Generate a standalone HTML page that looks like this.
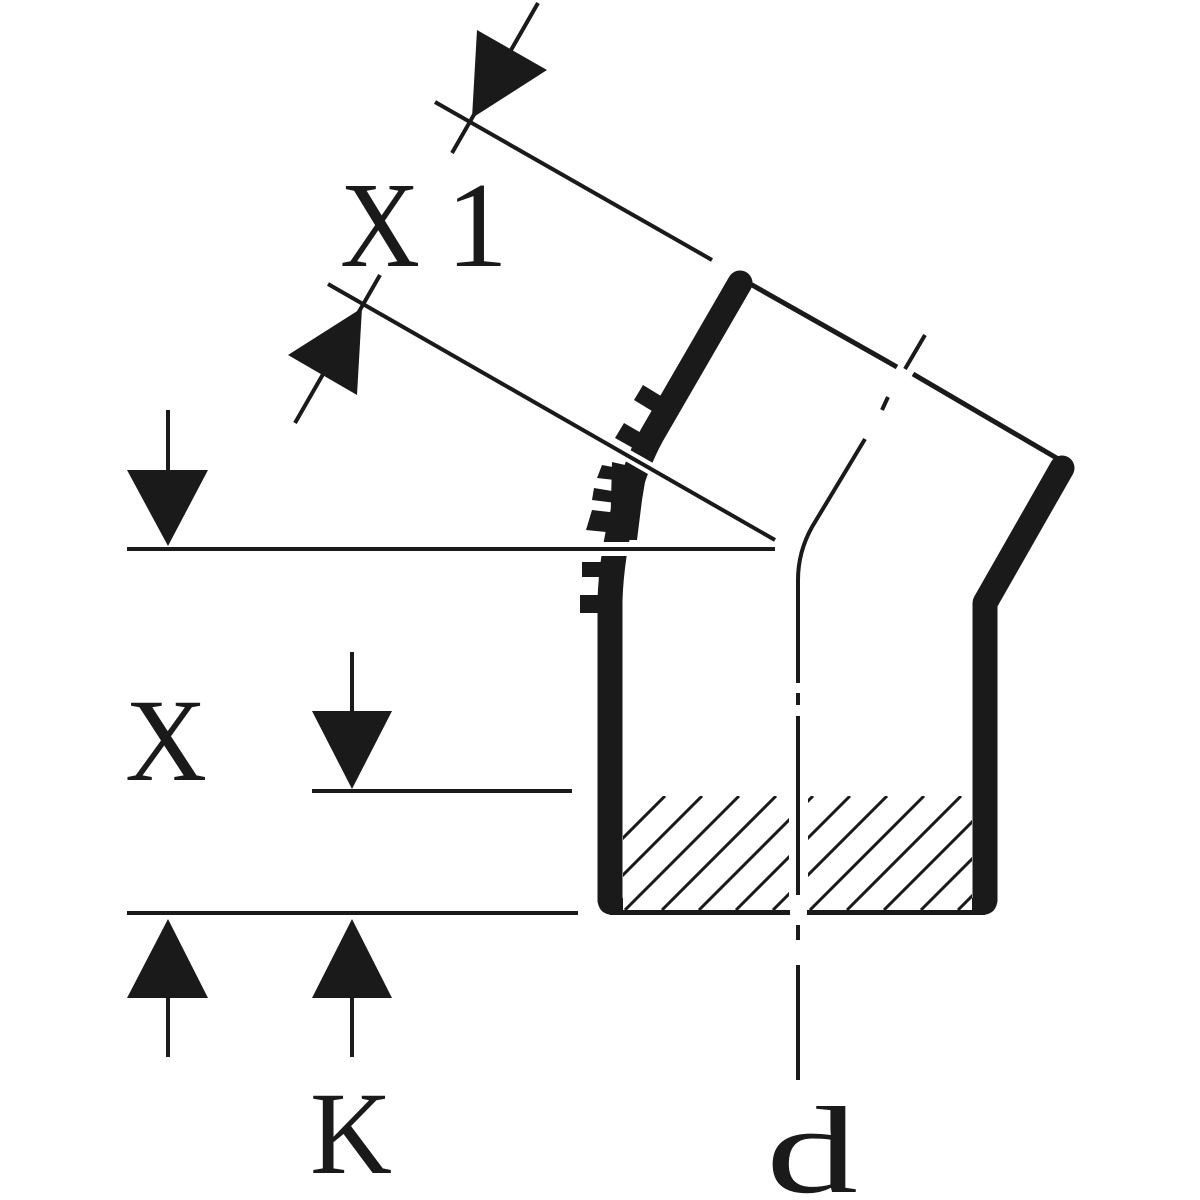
<!DOCTYPE html>
<html><head><meta charset="utf-8"><style>html,body{margin:0;padding:0;background:#fff}svg{display:block}</style></head>
<body>
<svg width="1200" height="1200" viewBox="0 0 1200 1200" xmlns="http://www.w3.org/2000/svg">
<defs>
<clipPath id="hc"><rect x="623" y="796" width="349" height="114"/></clipPath>
</defs>
<g fill="#1a1a1a" stroke="none">
<!-- X1 dimension -->
<line x1="538" y1="3" x2="452" y2="153" stroke="#1a1a1a" stroke-width="4"/>
<polygon points="477,30 547,70 472,118"/>
<line x1="435" y1="102" x2="712" y2="260" stroke="#1a1a1a" stroke-width="4"/>
<line x1="380" y1="275" x2="295" y2="423" stroke="#1a1a1a" stroke-width="4"/>
<polygon points="362,308 288,355 357,395"/>
<text x="340" y="266" font-family="Liberation Serif, serif" font-size="122" textLength="80" lengthAdjust="spacingAndGlyphs">X</text>
<text x="446" y="266" font-family="Liberation Serif, serif" font-size="122" textLength="62" lengthAdjust="spacingAndGlyphs">1</text>

<!-- horizontal dims -->
<line x1="168" y1="410" x2="168" y2="470" stroke="#1a1a1a" stroke-width="4"/>
<polygon points="127,470 208,470 168,546"/>
<line x1="352" y1="652" x2="352" y2="712" stroke="#1a1a1a" stroke-width="4"/>
<polygon points="312,711 392,711 352,789"/>
<line x1="312" y1="791" x2="572" y2="791" stroke="#1a1a1a" stroke-width="4"/>
<line x1="127" y1="913" x2="578" y2="913" stroke="#1a1a1a" stroke-width="4"/>
<polygon points="127,998 208,998 168,919"/>
<line x1="168" y1="998" x2="168" y2="1057" stroke="#1a1a1a" stroke-width="4"/>
<polygon points="312,998 392,998 352,919"/>
<line x1="352" y1="998" x2="352" y2="1057" stroke="#1a1a1a" stroke-width="4"/>
<text x="125" y="780" font-family="Liberation Serif, serif" font-size="118" textLength="82" lengthAdjust="spacingAndGlyphs">X</text>
<text x="310" y="1173" font-family="Liberation Serif, serif" font-size="118" textLength="82" lengthAdjust="spacingAndGlyphs">K</text>
<text x="766" y="1192" font-family="Liberation Serif, serif" font-size="124" textLength="92" lengthAdjust="spacingAndGlyphs">d</text>

<!-- pipe walls -->
<path d="M740,283 L652,435 C630,475 612,540 610,600 L610,900" fill="none" stroke="#1a1a1a" stroke-width="25" stroke-linecap="round"/>
<path d="M1062,468 L985,603 L985,900" fill="none" stroke="#1a1a1a" stroke-width="25" stroke-linecap="round" stroke-linejoin="round"/>
<path d="M597.5,898 Q597.5,915 614,915 L623,915 L623,898 Z"/>
<path d="M997.5,898 Q997.5,915 981,915 L972,915 L972,898 Z"/>
<line x1="610" y1="912.5" x2="790" y2="912.5" stroke="#1a1a1a" stroke-width="5"/>
<line x1="807" y1="912.5" x2="985" y2="912.5" stroke="#1a1a1a" stroke-width="5"/>
<!-- top edge -->
<line x1="745" y1="281" x2="897" y2="367" stroke="#1a1a1a" stroke-width="5"/>
<line x1="913" y1="374" x2="1060" y2="460" stroke="#1a1a1a" stroke-width="5"/>

<!-- teeth -->
<polygon points="643,385 661,396 652,411 634,400"/>
<polygon points="624,423 648,437 640,452 615,438"/>
<polygon points="602,465 618,468 615,480 597,478"/>
<polygon points="594,488 618,492 616,503 592,500"/>
<polygon points="592,510 618,513 616,533 586,530"/>
<polygon points="612,462 647,470 642,500 637,540 610,540"/>
<rect x="582" y="562" width="20" height="15"/>
<rect x="580" y="595" width="20" height="18"/>

<!-- lines crossing teeth (with white halo only near teeth) -->
<line x1="560" y1="417" x2="690" y2="491" stroke="#fff" stroke-width="12"/>
<line x1="328" y1="284" x2="775" y2="540" stroke="#1a1a1a" stroke-width="4"/>
<line x1="570" y1="549" x2="660" y2="549" stroke="#fff" stroke-width="14"/>
<line x1="127" y1="549" x2="775" y2="549" stroke="#1a1a1a" stroke-width="4"/>

<!-- centerline -->
<line x1="925" y1="335" x2="905" y2="369" stroke="#1a1a1a" stroke-width="4"/>
<line x1="888" y1="397" x2="882" y2="410" stroke="#1a1a1a" stroke-width="4"/>
<path d="M865,439 L812,527 Q798,552 798,580 L798,683" fill="none" stroke="#1a1a1a" stroke-width="4"/>
<line x1="798" y1="693" x2="798" y2="705" stroke="#1a1a1a" stroke-width="4"/>
<line x1="798" y1="716" x2="798" y2="895" stroke="#1a1a1a" stroke-width="4"/>
<line x1="798" y1="925" x2="798" y2="940" stroke="#1a1a1a" stroke-width="4"/>
<line x1="798" y1="965" x2="798" y2="1080" stroke="#1a1a1a" stroke-width="4"/>

<!-- hatching -->
<g clip-path="url(#hc)" stroke="#1a1a1a" stroke-width="3">
<path d="M551,910 L665,796 M588,910 L702,796 M625,910 L739,796 M662,910 L776,796 M699,910 L813,796 M736,910 L850,796 M773,910 L887,796 M810,910 L924,796 M847,910 L961,796 M884,910 L998,796 M921,910 L1035,796 M958,910 L1072,796"/>
</g>
<rect x="789" y="794" width="19" height="116" fill="#fff"/>
<line x1="798" y1="765" x2="798" y2="895" stroke="#1a1a1a" stroke-width="4"/>
</g>
</svg>
</body></html>
